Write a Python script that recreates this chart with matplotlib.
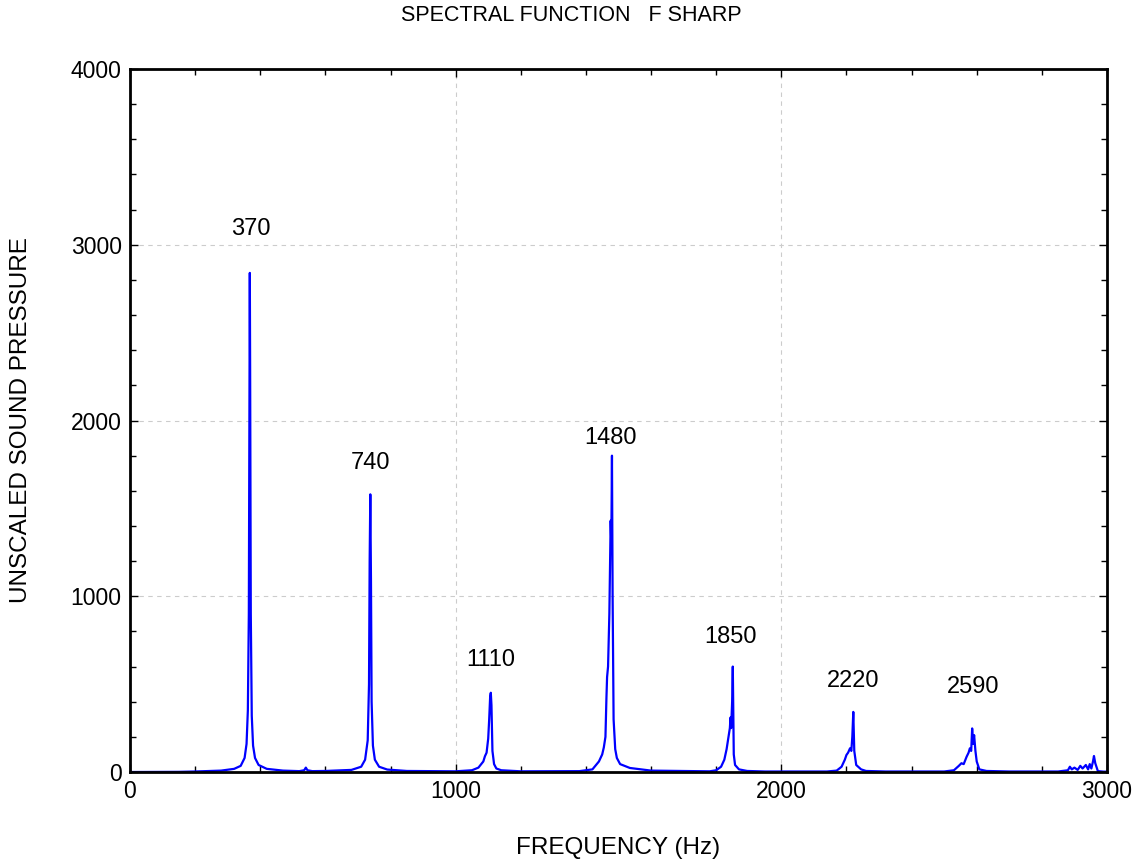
import matplotlib
matplotlib.use("Agg")
import matplotlib.pyplot as plt
from matplotlib.ticker import MultipleLocator

plt.rcParams["font.family"] = ["Liberation Sans", "DejaVu Sans"]

# spectrum, one group of points per harmonic
freq_base = [0, 150, 200, 280]
amp_base = [0, 1, 3, 8]

freq_370 = [320, 340, 352, 358, 362, 365, 367, 368, 369, 371, 374, 378, 384, 395, 420, 470]
amp_370 = [18, 35, 80, 160, 350, 900, 2200, 2840, 2300, 900, 320, 150, 80, 40, 18, 8]

freq_540 = [520, 535, 540, 545, 560]
amp_540 = [5, 10, 25, 10, 5]

freq_740 = [600, 680, 710, 722, 730, 734, 736, 738, 740, 742, 746, 752, 765, 790, 850]
amp_740 = [6, 12, 30, 70, 180, 500, 1200, 1580, 1100, 400, 150, 70, 30, 14, 6]

freq_1110 = [1000, 1050, 1070, 1085, 1090, 1095, 1100, 1103, 1106, 1108, 1110, 1113, 1118, 1125, 1140, 1200]
amp_1110 = [4, 10, 25, 60, 90, 110, 190, 300, 430, 451, 380, 120, 45, 20, 10, 4]

freq_1480 = [1380, 1420, 1440, 1450, 1455, 1460, 1463, 1465, 1468, 1472, 1476, 1478, 1480,
             1482, 1485, 1490, 1495, 1505, 1535, 1600]
amp_1480 = [5, 15, 60, 100, 140, 200, 420, 540, 600, 900, 1430, 1300, 1800,
            1000, 300, 130, 80, 45, 23, 8]

freq_1850 = [1780, 1800, 1815, 1825, 1832, 1838, 1842, 1844, 1846, 1849, 1851, 1854, 1858, 1870, 1895, 1950]
amp_1850 = [4, 10, 30, 70, 130, 200, 250, 310, 250, 400, 600, 100, 40, 15, 6, 3]

freq_2220 = [2140, 2170, 2185, 2195, 2200, 2205, 2211, 2215, 2218, 2221, 2224, 2230, 2245, 2260, 2320]
amp_2220 = [3, 8, 30, 70, 97, 110, 135, 120, 200, 342, 120, 40, 15, 6, 3]

freq_2590 = [2500, 2530, 2538, 2545, 2553, 2560, 2569, 2575, 2579, 2583, 2586, 2589, 2592,
             2596, 2600, 2608, 2630, 2700]
amp_2590 = [3, 10, 23, 35, 50, 45, 87, 110, 135, 120, 248, 160, 210,
            120, 60, 15, 6, 3]

freq_2950 = [2850, 2880, 2886, 2892, 2900, 2910, 2918, 2925, 2935, 2942, 2947, 2952,
             2957, 2960, 2964, 2972, 2990, 3000]
amp_2950 = [3, 10, 30, 15, 25, 12, 35, 20, 40, 15, 45, 20,
            60, 91, 50, 5, 2, 2]

freq = (freq_base + freq_370 + freq_540 + freq_740 + freq_1110 + freq_1480
        + freq_1850 + freq_2220 + freq_2590 + freq_2950)
amp = (amp_base + amp_370 + amp_540 + amp_740 + amp_1110 + amp_1480
       + amp_1850 + amp_2220 + amp_2590 + amp_2950)

peak_labels = ["370", "740", "1110", "1480", "1850", "2220", "2590"]
label_x = [370, 740, 1108, 1477, 1845, 2220, 2588]
label_y = [3090, 1760, 640, 1900, 770, 520, 485]

fig = plt.figure(figsize=(11.43, 8.65), dpi=100)
ax = fig.add_axes([0.1137, 0.1075, 0.8548, 0.8127])

ax.plot(freq, amp, color="#0000ff", lw=1.6)
for lab, x, y in zip(peak_labels, label_x, label_y):
    ax.text(x, y, lab, ha="center", va="center", fontsize=17)

ax.set_xlim(0, 3000)
ax.set_ylim(0, 4000)
ax.xaxis.set_major_locator(MultipleLocator(1000))
ax.yaxis.set_major_locator(MultipleLocator(1000))
ax.xaxis.set_minor_locator(MultipleLocator(200))
ax.yaxis.set_minor_locator(MultipleLocator(200))
ax.tick_params(which="both", direction="in", top=True, right=True, labelsize=16.5, pad=6)
ax.tick_params(which="major", length=6, width=1)
ax.tick_params(which="minor", length=4, width=1)
ax.grid(True, which="major", ls=(0, (4, 4)), color="#cccccc", lw=0.8)
for s in ax.spines.values():
    s.set_linewidth(2)

ax.set_xlabel("FREQUENCY (Hz)", fontsize=17.5, labelpad=24)
ax.set_ylabel("UNSCALED SOUND PRESSURE", fontsize=17.5, labelpad=28)
fig.text(0.5, 0.982, "SPECTRAL FUNCTION   F SHARP", ha="center", va="center", fontsize=15.5)

fig.savefig("out.png", dpi=100)
